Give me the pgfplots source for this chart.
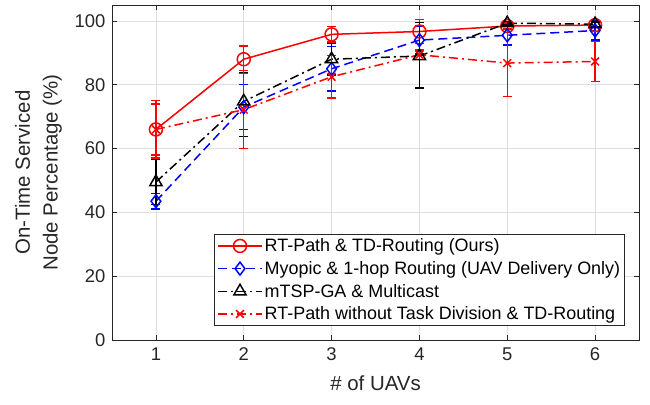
\documentclass[border=0pt]{standalone}
\usepackage{pgfplots}
\pgfplotsset{compat=1.18}
\usepackage{fontspec}
\setmainfont{Liberation Sans}
\definecolor{axgray}{RGB}{38,38,38}
\definecolor{gridgray}{RGB}{223,223,223}
\begin{document}
\begin{tikzpicture}
\begin{axis}[
  name=ax,
  scale only axis,
  width=527bp, height=335bp,
  xmin=0.5, xmax=6.5, ymin=0, ymax=105,
  xtick={1,2,3,4,5,6}, ytick={0,20,40,60,80,100},
  grid=major,
  major grid style={gridgray, line width=0.6bp},
  axis line style={axgray, line width=0.8bp},
  tick style={axgray, line width=0.8bp},
  tick align=inside,
  major tick length=5.5bp,
  /pgf/number format/assume math mode=true,
  ticklabel style={font=\fontsize{18.5}{22}\selectfont, text=axgray},
  xticklabel style={yshift=-4bp},
  yticklabel style={xshift=-3bp},
  xlabel={\# of UAVs},
  ylabel={On-Time Serviced\\Node Percentage (\%)},
  label style={font=\fontsize{20.5}{28}\selectfont, text=axgray},
  xlabel style={at={(axis description cs:0.5,-0.1284)}, anchor=center},
  ylabel style={at={(axis description cs:-0.1395,0.5)}, anchor=center, align=center},
  legend cell align=left,
  legend style={at={(axis description cs:0.9734,0.0418)}, anchor=south east,
    font=\fontsize{18}{22}\selectfont, draw=axgray, line width=0.6bp,
    row sep=4.2bp, inner sep=2.5bp, fill=white},
  legend image code/.code={\draw[mark repeat=2,mark phase=2] plot coordinates {(0bp,0bp) (22bp,0bp) (44bp,0bp)};},
  error bars/y dir=both, error bars/y explicit,
]
% RT-Path & TD-Routing (Ours)
\addplot[red, line width=1.5bp, mark=o, mark size=6.5bp,
  error bars/error bar style={red, line width=1.5bp, solid},
  error bars/error mark options={red, rotate=90, mark size=4.5bp, line width=1.5bp, solid}]
coordinates {
  (1,66) +- (0,9)
  (2,88) += (0,4.2) -= (0,4.4)
  (3,95.8) +- (0,2.4)
  (4,96.7) +- (0,3.7)
  (5,98.4) +- (0,1.0)
  (6,98.7) +- (0,0.8)
};
\addlegendentry{RT-Path \& TD-Routing (Ours)}
% Myopic & 1-hop Routing
\addplot[blue, line width=1.5bp, dash pattern=on 9bp off 5bp, mark=diamond, mark size=6.5bp, mark options={solid},
  error bars/error bar style={blue, line width=1.5bp, solid},
  error bars/error mark options={blue, rotate=90, mark size=4.5bp, line width=1.5bp, solid}]
coordinates {
  (1,43.5) +- (0,2.4)
  (2,73) +- (0,7.1)
  (3,85) +- (0,7)
  (4,94) +- (0,4.4)
  (5,95.5) +- (0,3.1)
  (6,97) +- (0,3)
};
\addlegendentry{Myopic \& 1-hop Routing (UAV Delivery Only)}
% mTSP-GA & Multicast
\addplot[black, line width=1.5bp, dash pattern=on 9bp off 4bp on 2bp off 4bp, mark=triangle, mark size=7bp, mark options={solid},
  error bars/error bar style={black, line width=1.5bp, solid},
  error bars/error mark options={black, rotate=90, mark size=4.5bp, line width=1.5bp, solid}]
coordinates {
  (1,49.5) +- (0,7)
  (2,74.8) += (0,9) -= (0,11)
  (3,88) +- (0,5)
  (4,89) += (0,10.5) -= (0,10)
  (5,99.3) +- (0,0.5)
  (6,99) +- (0,0.7)
};
\addlegendentry{mTSP-GA \& Multicast}
% RT-Path without Task Division & TD-Routing
\addplot[red, line width=1.5bp, dash pattern=on 9bp off 4bp on 2bp off 4bp, mark=x, mark size=5.5bp, mark options={solid},
  error bars/error bar style={red, line width=1.5bp, solid},
  error bars/error mark options={red, rotate=90, mark size=4.5bp, line width=1.5bp, solid}]
coordinates {
  (1,66) +- (0,8)
  (2,72.2) +- (0,12.2)
  (3,82.5) +- (0,6.7)
  (4,89.4) +- (0,1.5)
  (5,86.8) +- (0,10.5)
  (6,87.3) +- (0,6.3)
};
\addlegendentry{RT-Path without Task Division \& TD-Routing}
\end{axis}
\pgfresetboundingbox
\path ([xshift=-112bp,yshift=-65bp]ax.south west) rectangle ([xshift=11bp,yshift=5bp]ax.north east);
\end{tikzpicture}
\end{document}
